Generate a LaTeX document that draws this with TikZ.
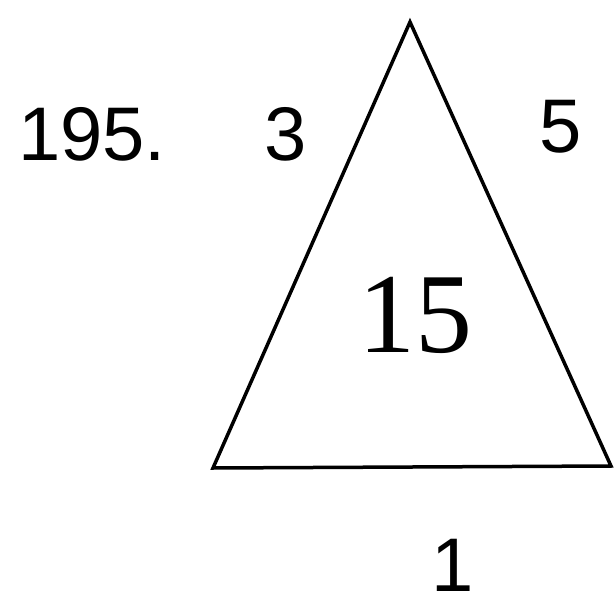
\documentclass[tikz,border=0pt]{standalone}
\usepackage{fontspec}
\setmainfont{Liberation Sans}
\newfontfamily\serifnum{Liberation Serif}
\begin{document}
\begin{tikzpicture}[x=1pt,y=-1pt,
  lbl/.style={font=\fontsize{76}{80}\selectfont, inner sep=0pt, anchor=base},
  big/.style={font=\serifnum\fontsize{114}{116}\selectfont, inner sep=0pt, anchor=base},
  edge/.style={line width=3.5pt, line join=miter}]
\useasboundingbox (0,0) rectangle (614,605);
\coordinate (A) at (410,22);
\coordinate (B) at (213,468);
\coordinate (C) at (611,466);
\draw[edge] (A) -- (B) -- (C) -- cycle;
\node[lbl] (num) at (92,160) {195.};
\node[lbl] (left) at (286,160) {3};
\node[lbl] (right) at (561,152) {5};
\node[big] (mid) at (415,352) {15};
\node[lbl] (bottom) at (453,591) {1};
\end{tikzpicture}
\end{document}
